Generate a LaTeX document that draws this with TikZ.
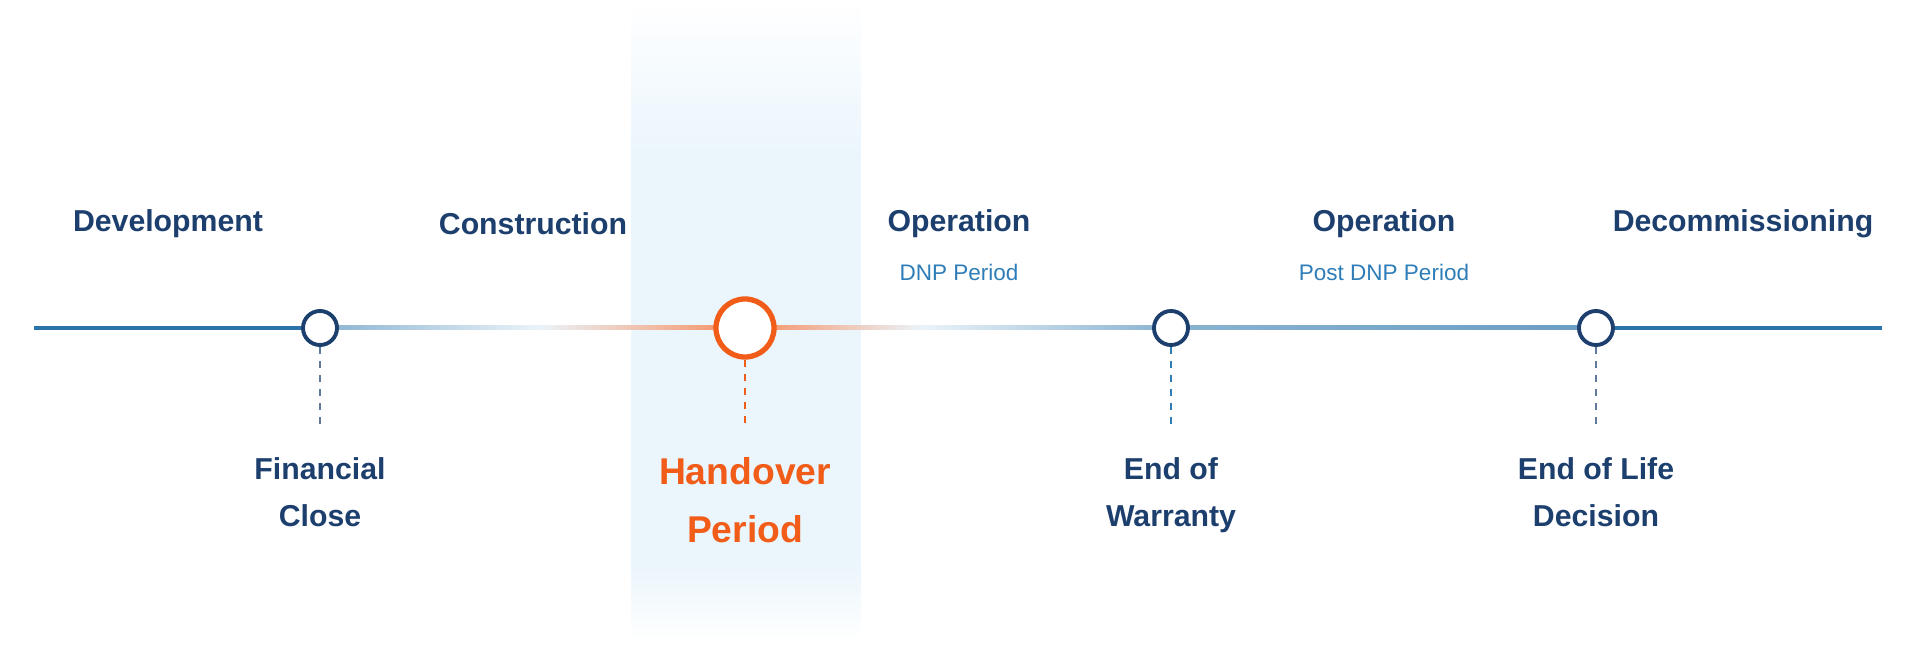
\documentclass[tikz,border=0pt]{standalone}
\usepackage{fontspec}
\setmainfont{Liberation Sans}
\definecolor{navy}{HTML}{1D3F6E}
\definecolor{mblue}{HTML}{2E7DB8}
\definecolor{lineb}{HTML}{2A74AA}
\definecolor{oran}{HTML}{F25C19}
\definecolor{band}{HTML}{EAF5FC}
\definecolor{pale}{HTML}{DCEBF5}
\begin{document}
\begin{tikzpicture}[x=0.01cm,y=-0.01cm,
  phase/.style={font=\bfseries\fontsize{8.6}{10}\selectfont,text=navy},
  sub/.style={font=\fontsize{6.4}{8}\selectfont,text=mblue},
  mile/.style={font=\bfseries\fontsize{8.6}{13.5}\selectfont,text=navy,align=center,anchor=north},
  dot/.style={circle,draw=navy,line width=1.1pt,fill=white,minimum size=0.34cm,inner sep=0},
  stem/.style={dashed,line width=0.35pt,dash pattern=on 2pt off 2pt}]
\useasboundingbox (0,0) rectangle (1920,667);
% band
\shade[top color=white,bottom color=band] (631,0) rectangle (861,160);
\fill[band] (631,160) rectangle (861,560);
\shade[top color=band,bottom color=white] (631,560) rectangle (861,640);
% line
\fill[lineb] (34,326) rectangle (320,330);
\shade[left color=lineb!55,right color=pale!60] (320,326) rectangle (540,330);
\shade[left color=pale!60,right color=oran!70] (540,326) rectangle (745,330);
\shade[left color=oran!70,right color=pale!60] (745,326) rectangle (920,330);
\shade[left color=pale!60,right color=lineb!55] (920,326) rectangle (1171,330);
\shade[left color=lineb!55,right color=lineb!70] (1171,326) rectangle (1596,330);
\fill[lineb] (1596,326) rectangle (1882,330);
% milestones
\coordinate (s1) at (320,428); \coordinate (s2) at (745,428);
\coordinate (s3) at (1171,428); \coordinate (s4) at (1596,428);
\node[dot] (c1) at (320,328) {};
\node[dot,draw=oran,line width=1.5pt,minimum size=0.58cm] (c2) at (745,328) {};
\node[dot] (c3) at (1171,328) {};
\node[dot] (c4) at (1596,328) {};
\draw[stem,navy!70] (c1) -- (s1);
\draw[stem,oran] (c2) -- (s2);
\draw[stem,mblue] (c3) -- (s3);
\draw[stem,navy!70] (c4) -- (s4);
% phases
\node[phase] (p1) at (168,224) {Development};
\node[phase] (p2) at (533,224) {Construction};
\node[phase] (p3) at (959,224) {Operation};
\node[sub] (q3) at (959,272) {DNP Period};
\node[phase] (p4) at (1384,224) {Operation};
\node[sub] (q4) at (1384,272) {Post DNP Period};
\node[phase] (p5) at (1743,224) {Decommissioning};
% milestone labels
\node[mile] (m1) at (320,445) {Financial\\Close};
\node[mile,text=oran,font=\bfseries\fontsize{10.6}{16.5}\selectfont] (m2) at (745,445) {Handover\\Period};
\node[mile] (m3) at (1171,445) {End of\\Warranty};
\node[mile] (m4) at (1596,445) {End of Life\\Decision};
\end{tikzpicture}
\end{document}
